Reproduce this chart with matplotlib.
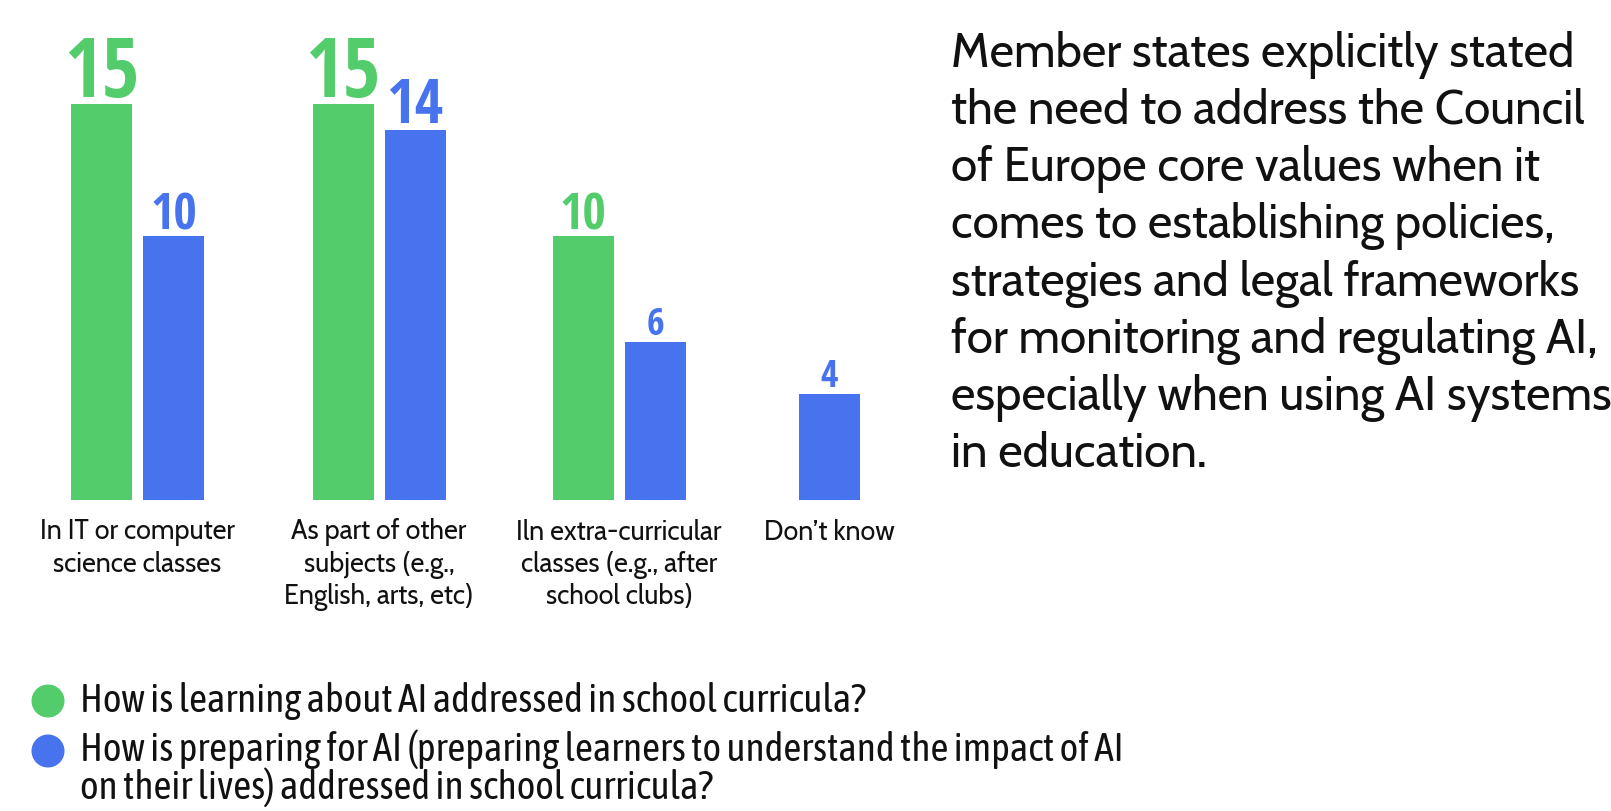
import numpy as np
import matplotlib
matplotlib.use("Agg")
import matplotlib.pyplot as plt
from matplotlib.patches import Circle
from matplotlib import font_manager as fm
from matplotlib.textpath import TextPath

W, H = 1611, 811

# data
categories = [
    "In IT or computer\nscience classes",
    "As part of other\nsubjects (e.g.,\nEnglish, arts, etc)",
    "Iln extra-curricular\nclasses (e.g., after\nschool clubs)",
    "Don\u2019t know",
]
learning_about = [15, 15, 10, np.nan]
preparing_for = [10, 14, 6, 4]
series_names = [
    "How is learning about AI addressed in school curricula?",
    "How is preparing for AI (preparing learners to understand the impact of AI\non their lives) addressed in school curricula?",
]
note_lines = [
    "Member states explicitly stated",
    "the need to address the Council",
    "of Europe core values when it",
    "comes to establishing policies,",
    "strategies and legal frameworks",
    "for monitoring and regulating AI,",
    "especially when using AI systems",
    "in education.",
]

# layout / style
GREEN = "#53CC6C"
BLUE = "#4873EE"
TEXT = "#111111"
group_pos = [137.5, 379, 619, 829.5]   # group centres (px)
bar_w = 61
off = 36
px_per_unit = 26.4
green_cap = [59, 59, 37]     # digit heights of value labels (px)
blue_cap = [37, 44, 28, 27]

REGULAR = ["Source Sans 3", "Source Sans Pro", "PT Sans", "Fira Sans", "Lato",
           "Hind", "Cabin", "Open Sans", "Noto Sans"]
CONDENSED = ["PT Sans Narrow", "Fira Sans Condensed", "Fira Sans Extra Condensed",
             "Roboto Condensed", "IBM Plex Sans Condensed", "Open Sans Condensed",
             "Encode Sans Condensed", "Asap Condensed", "Sofia Sans Condensed",
             "Sofia Sans Semi Condensed", "Ubuntu Condensed", "Archivo Narrow",
             "Barlow Semi Condensed", "Liberation Sans Narrow"]


def weight_of(f):
    w = f.weight
    if isinstance(w, str):
        w = fm.weight_dict.get(w, 400)
    return int(w)


def font_entries(names, weight):
    out = []
    for name in names:
        for f in fm.fontManager.ttflist:
            if f.name == name and f.style == "normal" and abs(weight_of(f) - weight) <= 50:
                out.append(fm.FontProperties(fname=f.fname))
                break
    if not out:
        out.append(fm.FontProperties(family="DejaVu Sans", weight=weight))
    return out


def ink(s, fp):
    return TextPath((0, 0), s, size=100, prop=fp).get_extents()


def best_font(names, weight, sample, ratio):
    # pick the font whose width / cap-height ratio is closest to the reference
    best, err = None, 1e9
    for fp in font_entries(names, weight):
        r = ink(sample, fp).width / ink("H", fp).height
        if abs(np.log(r / ratio)) < err:
            best, err = fp, abs(np.log(r / ratio))
    return best


def size_for_width(s, fp, px):
    return px * 72 / ink(s, fp).width


def size_for_cap(fp, px, s="1"):
    return px * 72 / ink(s, fp).height


num_fp = best_font(CONDENSED, 700, "15", 67 / 58)
leg_fp = best_font(CONDENSED, 400, series_names[0], 781 / 27.5)
reg_fp = best_font(REGULAR, 400, note_lines[0], 618.5 / 33.7)

fig = plt.figure(figsize=(W / 100, H / 100), dpi=100)
ax = fig.add_axes([0, 311 / H, 900 / W, 500 / H])
ax.set_xlim(0, 900)
ax.set_ylim(0, 500 / px_per_unit)
ax.axis("off")

ov = fig.add_axes([0, 0, 1, 1])
ov.set_xlim(0, W)
ov.set_ylim(H, 0)
ov.axis("off")


def value_label(x, v, color, cap):
    ax.annotate(f"{v:g}", (x, v), xytext=(0, 5), textcoords="offset points",
                ha="center", va="baseline", color=color,
                fontproperties=num_fp, fontsize=size_for_cap(num_fp, cap, f"{v:g}"))


for i, (g, b) in enumerate(zip(learning_about, preparing_for)):
    c = group_pos[i]
    if np.isnan(g):
        xb = c
    else:
        xg, xb = c - off, c + off
        ax.bar(xg, g, width=bar_w, color=GREEN)
        value_label(xg, g, GREEN, green_cap[i])
    ax.bar(xb, b, width=bar_w, color=BLUE)
    value_label(xb, b, BLUE, blue_cap[i])

# category labels
cat_size = size_for_width("In IT or computer", reg_fp, 193)
for c, lab in zip(group_pos, categories):
    for j, line in enumerate(lab.split("\n")):
        ov.text(c, 539.5 + 32.4 * j, line, ha="center", va="baseline",
                fontproperties=reg_fp, fontsize=cat_size, color=TEXT)

# legend
leg_size = size_for_width(series_names[0], leg_fp, 781)
legend_rows = [(701, [712], GREEN), (751, [761, 799], BLUE)]
for (cy, bases, col), name in zip(legend_rows, series_names):
    ov.add_patch(Circle((48, cy), 15.8, color=col))
    for base, line in zip(bases, name.split("\n")):
        ov.text(80, base, line, ha="left", va="baseline",
                fontproperties=leg_fp, fontsize=leg_size, color=TEXT)

# note on the right
note_size = size_for_width(note_lines[0], reg_fp, 618.5)
for j, line in enumerate(note_lines):
    ov.text(951, 66.8 + 57.2 * j, line, ha="left", va="baseline",
            fontproperties=reg_fp, fontsize=note_size, color=TEXT)

fig.savefig("out.png", dpi=100)
